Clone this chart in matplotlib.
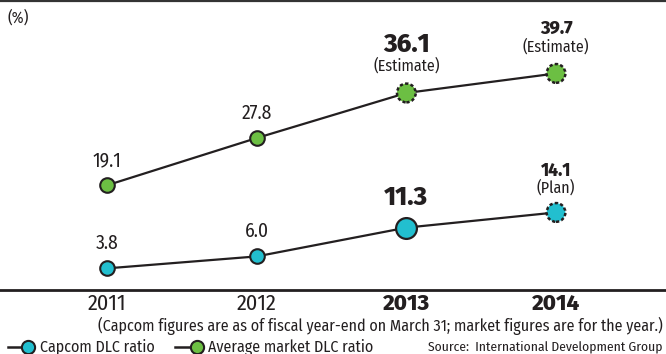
import matplotlib
matplotlib.use("Agg")
import matplotlib.pyplot as plt
from matplotlib.lines import Line2D

years = ["2011", "2012", "2013", "2014"]
capcom = [3.8, 6.0, 11.3, 14.1]
market = [19.1, 27.8, 36.1, 39.7]
capcom_notes = ["", "", "", "(Plan)"]
market_notes = ["", "", "(Estimate)", "(Estimate)"]
bold_years = [False, False, True, True]

CYAN = "#22bfcf"
GREEN = "#6cbf43"
DARK = "#231f20"
FONT = ["Fira Sans Condensed", "DejaVu Sans"]
BOLDFONT = ["Fira Sans", "DejaVu Sans"]

W, H = 666, 354
plt.rcParams["font.family"] = FONT
fig = plt.figure(figsize=(W / 100, H / 100), dpi=100)

base_px = 289
ax = fig.add_axes([0, 1 - base_px / H, 1, base_px / H])
step = 149.67
ax.set_xlim(-107 / step, (W - 107) / step)
ax.set_ylim(0, base_px / 5.43)
ax.axis("off")

xs = list(range(len(years)))

ax.plot(xs, capcom, color=DARK, lw=1.6, zorder=2, solid_capstyle="butt")
ax.plot(xs, market, color=DARK, lw=1.6, zorder=2, solid_capstyle="butt")

# markers
for i, v in enumerate(capcom):
    if i < 2:
        ax.scatter([i], [v], s=10.5 ** 2, color=CYAN, edgecolor=DARK, linewidth=1.5, zorder=3)
    elif i == 2:
        ax.scatter([i], [v], s=15 ** 2, color=CYAN, edgecolor=DARK, linewidth=1.6, zorder=3)
    else:
        ax.scatter([i], [v], s=13.5 ** 2, color=CYAN, edgecolor=DARK, linewidth=1.8,
                   linestyle=(0, (1.3, 0.9)), zorder=3)
for i, v in enumerate(market):
    if i < 2:
        ax.scatter([i], [v], s=10.5 ** 2, color=GREEN, edgecolor=DARK, linewidth=1.5, zorder=3)
    else:
        ax.scatter([i], [v], s=13.5 ** 2, color=GREEN, edgecolor=DARK, linewidth=1.8,
                   linestyle=(0, (1.3, 0.9)), zorder=3)

def label(x, v, text, off, size, bold=False):
    ax.annotate(text, (x, v), xytext=(0, off), textcoords="offset pixels",
                ha="center", va="center", fontsize=size,
                family=BOLDFONT if bold else FONT,
                fontweight="heavy" if bold else "normal", color=DARK)

# value labels
cap_offsets = [25, 25, 30, 42]
mkt_offsets = [25, 25, 48, 45]
for i, v in enumerate(capcom):
    if i == 2:
        label(i, v, f"{v:.1f}", cap_offsets[i], 18.5, True)
    elif bold_years[i]:
        label(i, v, f"{v:.1f}", cap_offsets[i], 12.5, True)
    else:
        label(i, v, f"{v:.1f}", cap_offsets[i], 14)
    if capcom_notes[i]:
        label(i, v, capcom_notes[i], 25, 11.5)
for i, v in enumerate(market):
    if i == 2:
        label(i, v, f"{v:.1f}", mkt_offsets[i], 18.5, True)
    elif bold_years[i]:
        label(i, v, f"{v:.1f}", mkt_offsets[i], 13, True)
    else:
        label(i, v, f"{v:.1f}", mkt_offsets[i], 14)
    if market_notes[i]:
        label(i, v, market_notes[i], 27, 11.5)

# year labels
for i, y in enumerate(years):
    ax.annotate(y, (i, 0), xytext=(0, -15), textcoords="offset pixels",
                ha="center", va="center",
                fontsize=16 if bold_years[i] else 16,
                family=BOLDFONT if bold_years[i] else FONT,
                fontweight="heavy" if bold_years[i] else "normal", color=DARK,
                annotation_clip=False)

# rules
fig.add_artist(Line2D([0, 1], [1 - 1 / H, 1 - 1 / H], color="#333333", lw=1.6,
                      transform=fig.transFigure))
fig.add_artist(Line2D([0, 1], [1 - 290 / H, 1 - 290 / H], color=DARK, lw=2.0,
                      transform=fig.transFigure))

def fx(px):
    return px / W

def fy(py):
    return 1 - py / H

fig.text(fx(8), fy(18), "(%)", fontsize=11.5, color=DARK, va="center", ha="left")
fig.text(fx(663), fy(326),
         "(Capcom figures are as of fiscal year-end on March 31; market figures are for the year.)",
         fontsize=11.5, color=DARK, ha="right", va="center")

# legend
for x0, xm, xt, col, lab in [(8, 28, 40, CYAN, "Capcom DLC ratio"),
                              (175, 197, 208, GREEN, "Average market DLC ratio")]:
    fig.add_artist(Line2D([fx(x0), fx(xm)], [fy(347), fy(347)], color=DARK, lw=1.8,
                          transform=fig.transFigure))
    fig.add_artist(Line2D([fx(xm)], [fy(347)], marker="o", markersize=9.5,
                          markerfacecolor=col, markeredgecolor=DARK, markeredgewidth=1.5,
                          transform=fig.transFigure))
    fig.text(fx(xt), fy(347), lab, fontsize=11.5, color=DARK, ha="left", va="center")

fig.text(fx(663), fy(347), "Source:  International Development Group", fontsize=9.75,
         color=DARK, ha="right", va="center")

fig.savefig("out.png", dpi=100)
